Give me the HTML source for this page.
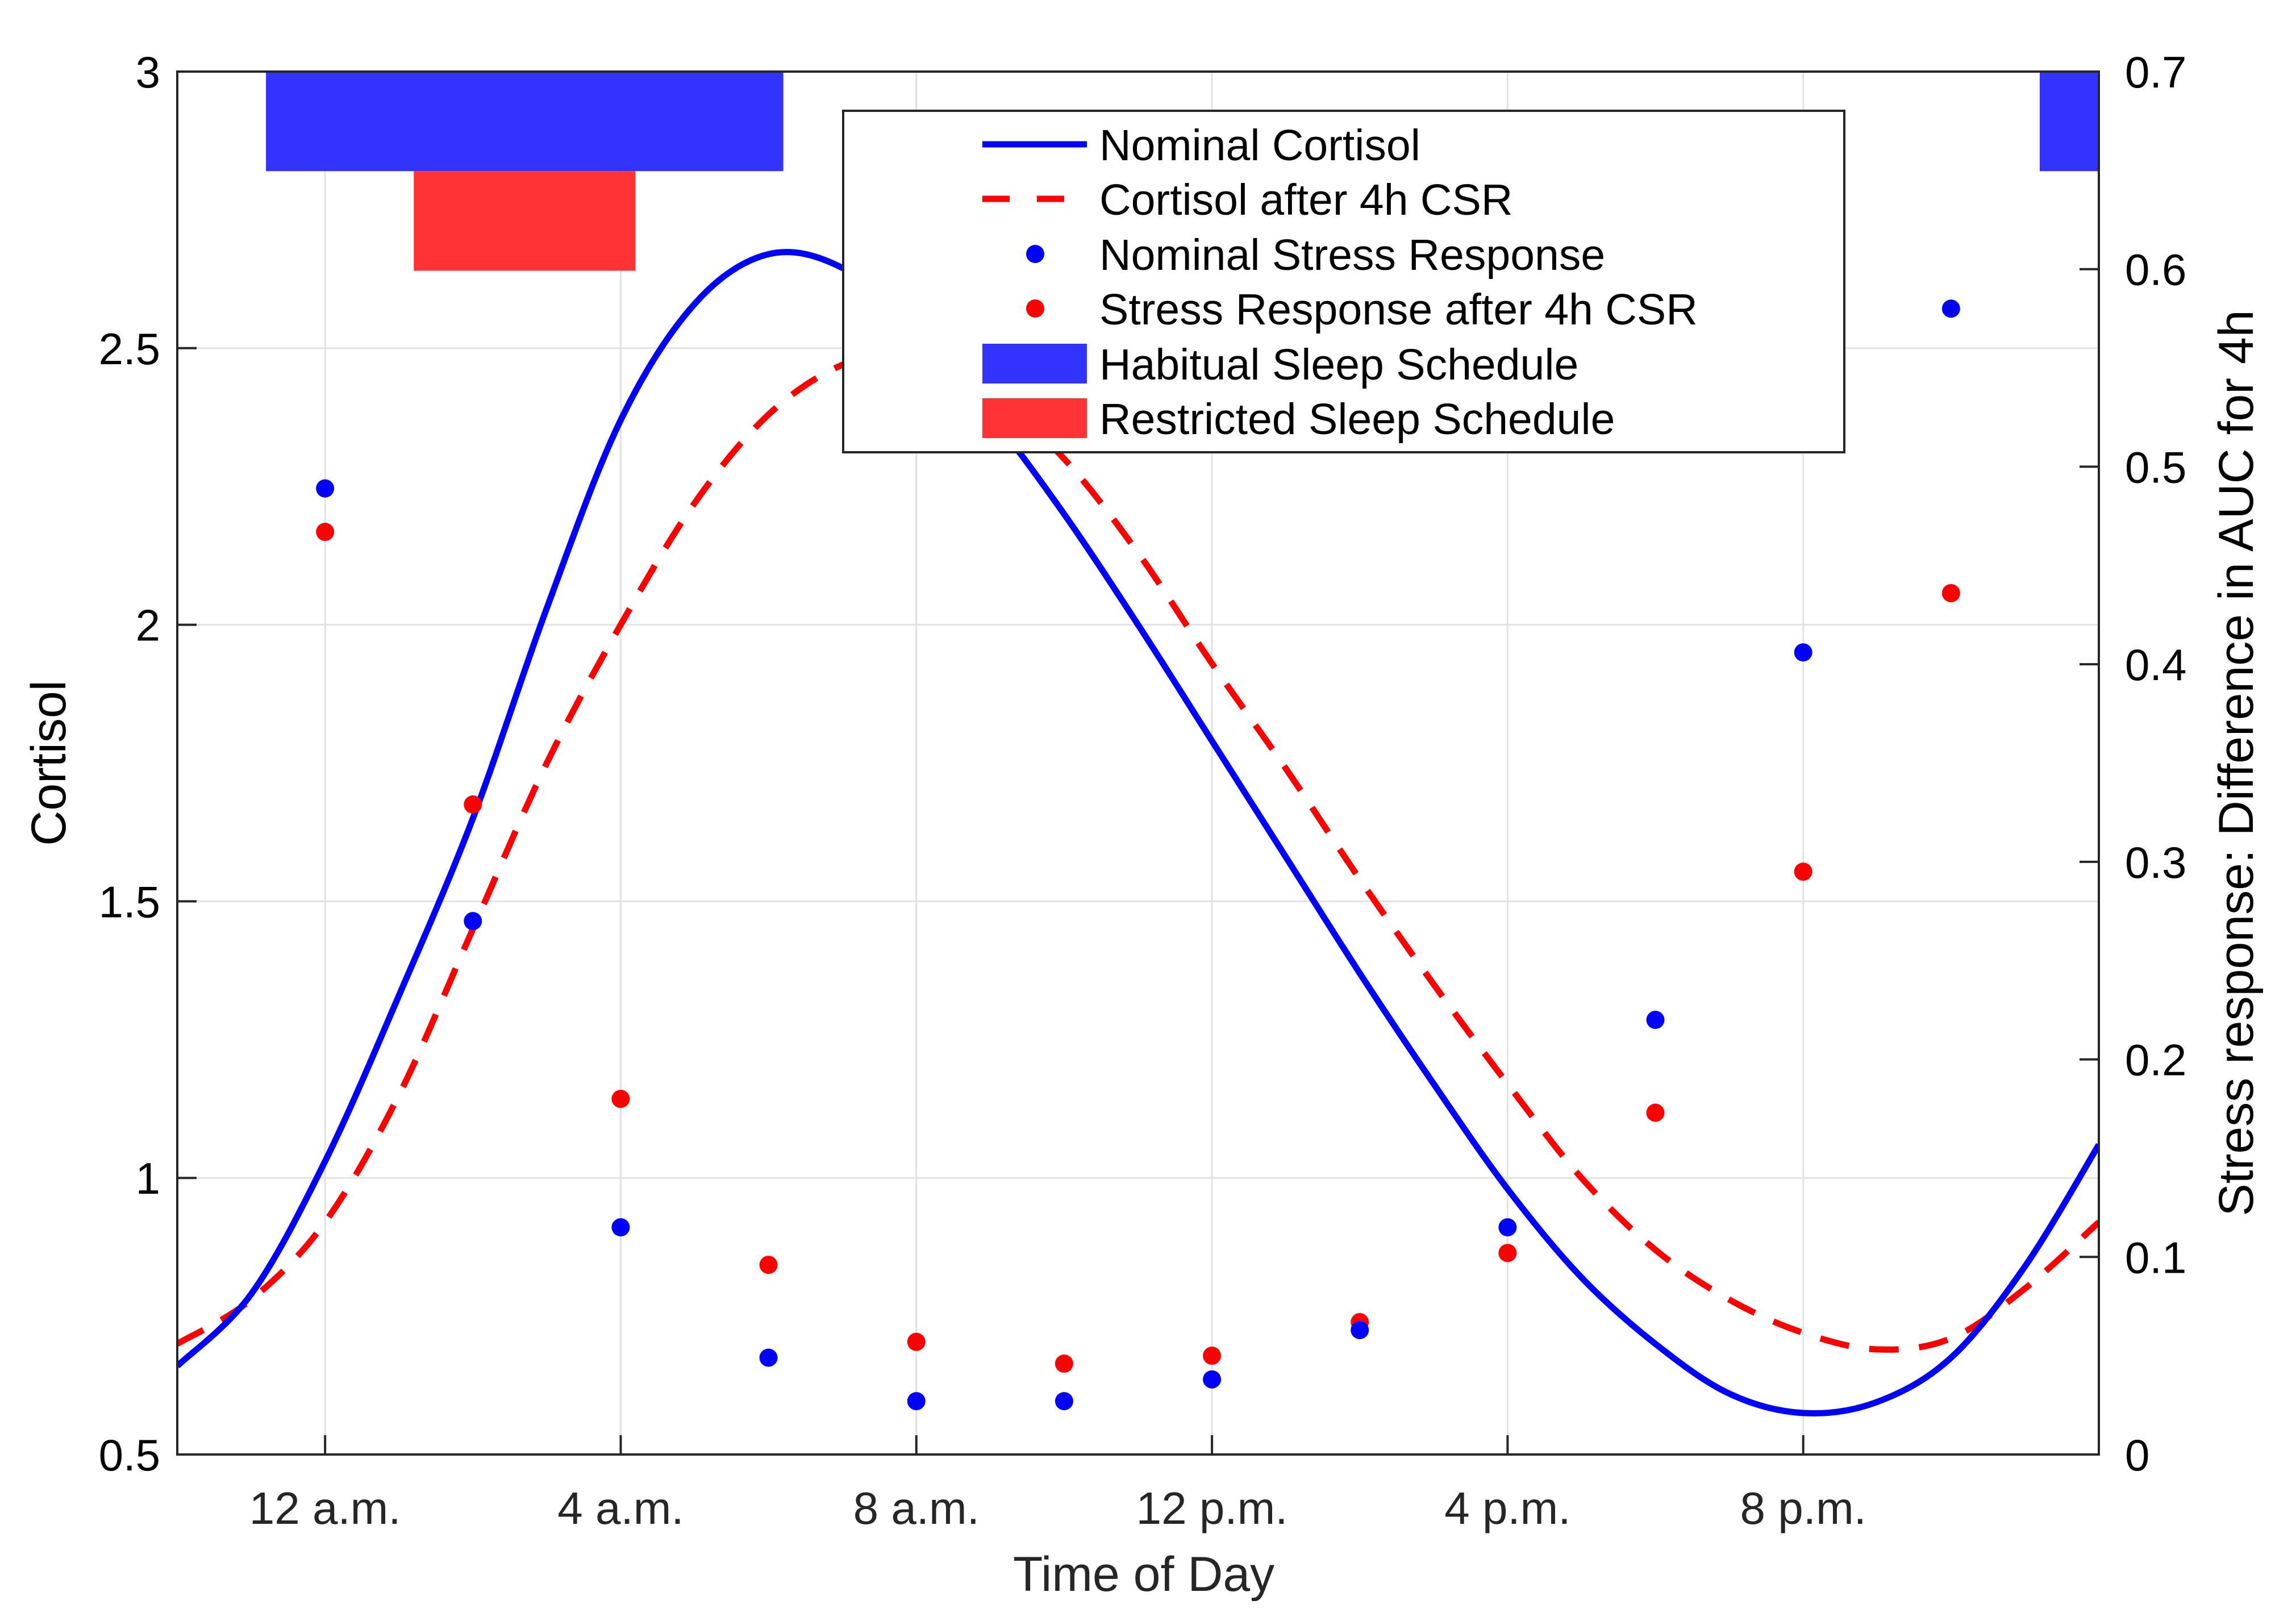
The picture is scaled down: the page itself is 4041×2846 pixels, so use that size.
<!DOCTYPE html>
<html><head><meta charset="utf-8"><style>
html,body{margin:0;padding:0;background:#fff;}
svg{display:block;font-family:"Liberation Sans",Arial,sans-serif;}
</style></head><body>
<svg id="chart" width="4041" height="2846" viewBox="0 0 4041 2846" xmlns="http://www.w3.org/2000/svg">
<rect width="4041" height="2846" fill="#fff"/>
<g id="grid"></g>
<g id="bars"></g>
<g id="lines"></g>
<g id="dots"></g>
<g id="axes"></g>
<g id="legend"></g>
</svg>
<script>
const xTickHours=[0,4,8,12,16,20];
const xTickLabels=["12 a.m.","4 a.m.","8 a.m.","12 p.m.","4 p.m.","8 p.m."];
const yLeftTicks=[0.5,1,1.5,2,2.5,3];
const yLeftLabels=["0.5","1","1.5","2","2.5","3"];
const yRightTicks=[0,0.1,0.2,0.3,0.4,0.5,0.6,0.7];
const yRightLabels=["0","0.1","0.2","0.3","0.4","0.5","0.6","0.7"];
const curveHours=[-2,-1,0,1,2,3,4,5,6,7,8,9,10,11,12,13,14,15,16,17,18,19,20,21,22,23,24];
const nominalCortisol=[0.66,0.79,1.03,1.33,1.65,2.03,2.37,2.58,2.67,2.645,2.535,2.38,2.2,2.0,1.79,1.58,1.37,1.17,0.98,0.82,0.70,0.61,0.575,0.595,0.675,0.84,1.06];
const csrCortisol=[0.70,0.78,0.92,1.15,1.45,1.75,2.0,2.22,2.38,2.47,2.5,2.42,2.3,2.13,1.93,1.74,1.54,1.35,1.17,1.0,0.87,0.78,0.72,0.69,0.71,0.8,0.92];
const dotHours=[0,2,4,6,8,10,12,14,16,18,20,22];
const nominalStress=[0.489,0.270,0.115,0.049,0.027,0.027,0.038,0.063,0.115,0.22,0.406,0.58];
const csrStress=[0.467,0.329,0.18,0.096,0.057,0.046,0.05,0.067,0.102,0.173,0.295,0.436];
const habitualSleep=[[-0.8,6.2],[23.2,24]];
const restrictedSleep=[[1.2,4.2]];
const habitualRange=[2.82,3];
const restrictedRange=[2.64,2.82];

const L=312,R=3694,T=126,B=2560,XMIN=-2,XMAX=24;
const NS="http://www.w3.org/2000/svg";
const X=h=>L+(h-XMIN)/(XMAX-XMIN)*(R-L);
const Y=v=>B-(v-0.5)/(3-0.5)*(B-T);
const Y2=v=>B-v/0.7*(B-T);
function mk(tag,attrs,parent){const e=document.createElementNS(NS,tag);for(const k in attrs)e.setAttribute(k,attrs[k]);parent.appendChild(e);return e;}
const grid=document.getElementById('grid'),bars=document.getElementById('bars'),lines=document.getElementById('lines'),dots=document.getElementById('dots'),axes=document.getElementById('axes'),legend=document.getElementById('legend');

xTickHours.forEach(h=>{const g=mk('line',{x1:X(h),x2:X(h),y1:T,y2:B,stroke:'#e2e2e2','stroke-width':3},grid);

});
yLeftTicks.forEach(v=>{const g=mk('line',{x1:L,x2:R,y1:Y(v),y2:Y(v),stroke:'#e2e2e2','stroke-width':3},grid);

});

habitualSleep.forEach(s=>{const r=mk('rect',{x:X(s[0]),y:Y(habitualRange[1]),width:X(s[1])-X(s[0]),height:Y(habitualRange[0])-Y(habitualRange[1]),fill:'#3333ff'},bars);

});
restrictedSleep.forEach(s=>{const r=mk('rect',{x:X(s[0]),y:Y(restrictedRange[1]),width:X(s[1])-X(s[0]),height:Y(restrictedRange[0])-Y(restrictedRange[1]),fill:'#ff3333'},bars);

});

function smooth(xs,ys){const p=xs.map((x,i)=>[X(x),Y(ys[i])]);let d='M'+p[0][0]+','+p[0][1];
for(let i=0;i<p.length-1;i++){const p0=p[Math.max(0,i-1)],p1=p[i],p2=p[i+1],p3=p[Math.min(p.length-1,i+2)];
d+=' C'+(p1[0]+(p2[0]-p0[0])/6)+','+(p1[1]+(p2[1]-p0[1])/6)+' '+(p2[0]-(p3[0]-p1[0])/6)+','+(p2[1]-(p3[1]-p1[1])/6)+' '+p2[0]+','+p2[1];}return d;}
const clip=mk('clipPath',{id:'pc'},document.getElementById('chart'));mk('rect',{x:L,y:T,width:R-L,height:B-T},clip);
lines.setAttribute('clip-path','url(#pc)');
const l1=mk('path',{d:smooth(curveHours,csrCortisol),fill:'none',stroke:'#ff0000','stroke-width':11,'stroke-dasharray':'52 36'},lines);


const l0=mk('path',{d:smooth(curveHours,nominalCortisol),fill:'none',stroke:'#0000ff','stroke-width':11},lines);



dotHours.forEach((h,i)=>{const c=mk('circle',{cx:X(h),cy:Y2(csrStress[i]),r:16,fill:'#ff0000'},dots);


const c2=mk('circle',{cx:X(h),cy:Y2(nominalStress[i]),r:16,fill:'#0000ff'},dots);

});

const frame=mk('rect',{x:L,y:T,width:R-L,height:B-T,fill:'none',stroke:'#262626','stroke-width':4},axes);


xTickHours.forEach((h,i)=>{mk('line',{x1:X(h),x2:X(h),y1:B,y2:B-34,stroke:'#262626','stroke-width':4},axes);
const t=mk('text',{x:X(h),y:2682,'text-anchor':'middle','font-size':80,fill:'#262626'},axes);t.textContent=xTickLabels[i];

});
yLeftTicks.forEach((v,i)=>{mk('line',{x1:L,x2:L+34,y1:Y(v),y2:Y(v),stroke:'#262626','stroke-width':4},axes);
const t=mk('text',{x:282,y:Y(v)+28,'text-anchor':'end','font-size':78,fill:'#000'},axes);t.textContent=yLeftLabels[i];

});
yRightTicks.forEach((v,i)=>{mk('line',{x1:R,x2:R-34,y1:Y2(v),y2:Y2(v),stroke:'#262626','stroke-width':4},axes);
const t=mk('text',{x:3740,y:Y2(v)+28,'text-anchor':'start','font-size':78,fill:'#000'},axes);t.textContent=yRightLabels[i];

});
const xt=mk('text',{x:2013,y:2800,'text-anchor':'middle','font-size':86,fill:'#262626'},axes);xt.textContent='Time of Day';


const yt=mk('text',{x:0,y:0,'text-anchor':'middle','font-size':86,fill:'#000',transform:'translate(115,1343) rotate(-90)'},axes);yt.textContent='Cortisol';


const yt2=mk('text',{x:0,y:0,'text-anchor':'middle','font-size':86,fill:'#000',transform:'translate(3965,1343) rotate(-90)'},axes);yt2.textContent='Stress response: Difference in AUC for 4h';



const lb=mk('rect',{x:1484,y:195,width:1762,height:601,fill:'#fff',stroke:'#262626','stroke-width':4},legend);


const rows=[254,350,447,543,640,736];
const names=['Nominal Cortisol','Cortisol after 4h CSR','Nominal Stress Response','Stress Response after 4h CSR','Habitual Sleep Schedule','Restricted Sleep Schedule'];
mk('line',{x1:1729,x2:1913,y1:rows[0],y2:rows[0],stroke:'#0000ff','stroke-width':11},legend);
mk('line',{x1:1729,x2:1913,y1:rows[1],y2:rows[1],stroke:'#ff0000','stroke-width':11,'stroke-dasharray':'48 48'},legend);
mk('circle',{cx:1822,cy:rows[2],r:16,fill:'#0000ff'},legend);
mk('circle',{cx:1822,cy:rows[3],r:16,fill:'#ff0000'},legend);
mk('rect',{x:1729,y:rows[4]-35,width:184,height:70,fill:'#3333ff'},legend);
mk('rect',{x:1729,y:rows[5]-35,width:184,height:70,fill:'#ff3333'},legend);
names.forEach((n,i)=>{const t=mk('text',{x:1935,y:rows[i]+28,'font-size':77,fill:'#000'},legend);t.textContent=n;

});
</script>
</body></html>
